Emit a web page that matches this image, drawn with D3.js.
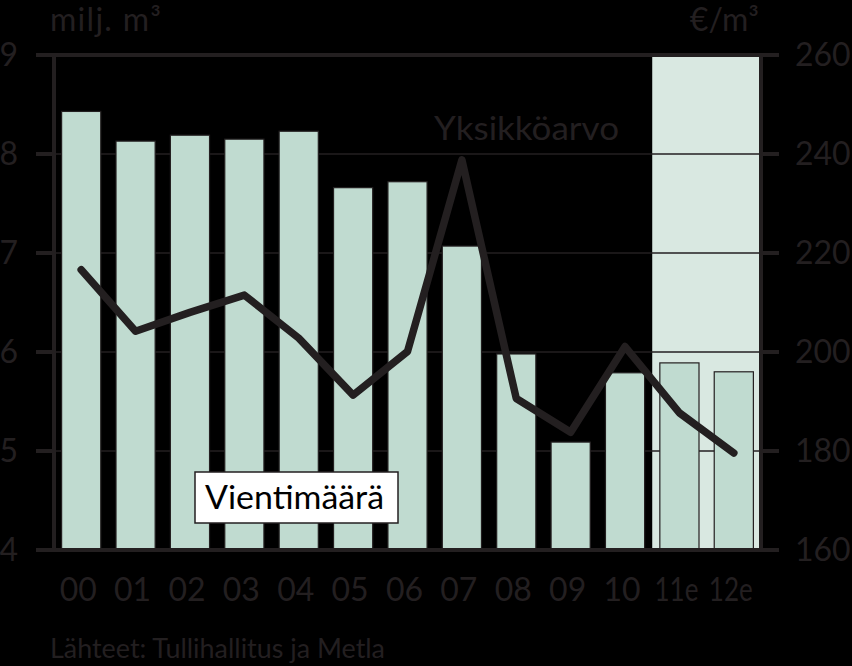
<!DOCTYPE html>
<html><head><meta charset="utf-8">
<script src="https://cdn.jsdelivr.net/npm/d3@7"></script>
<style>html,body{margin:0;padding:0;background:#000;}svg{display:block;}</style>
</head><body>
<script>
const categories = ["00","01","02","03","04","05","06","07","08","09","10","11e","12e"];
const volume = [8.43, 8.13, 8.19, 8.15, 8.23, 7.66, 7.72, 7.07, 5.98, 5.09, 5.79, 5.89, 5.80];
const unitValue = [216.6, 204.2, 208, 211.5, 202.8, 191.3, 200.1, 238.8, 190.6, 183.8, 201.1, 187.7, 179.6];
const leftTicks = [4,5,6,7,8,9];
const rightTicks = [160,180,200,220,240,260];
const forecast = ["11e","12e"];

const W = 852, H = 666;
const L = 54, R = 761, T = 55, B = 550;
const ink = "#231f20";
const font = "Lato, 'Open Sans', sans-serif";

const svg = d3.select("body").append("svg").attr("width", W).attr("height", H);
svg.append("rect").attr("width", W).attr("height", H).attr("fill", "#000");

const x = d3.scaleBand().domain(categories).range([L, R]).paddingInner(0.28).paddingOuter(0.14);
const yL = d3.scaleLinear().domain([4, 9]).range([B, T]);
const yR = d3.scaleLinear().domain([160, 260]).range([B, T]);

// forecast shading
const fx0 = x(forecast[0]) - x.step() * x.paddingInner() / 2;
svg.append("rect").attr("x", fx0).attr("y", T).attr("width", R - fx0).attr("height", B - T)
  .attr("fill", "#d9e8e1");

// gridlines
svg.append("g").selectAll("line").data(leftTicks.slice(1, -1)).join("line")
  .attr("x1", L).attr("x2", R).attr("y1", d => yL(d)).attr("y2", d => yL(d))
  .attr("stroke", ink).attr("stroke-width", 1.6);

// bars
svg.append("g").selectAll("rect").data(categories).join("rect")
  .attr("x", d => x(d)).attr("width", x.bandwidth())
  .attr("y", (d, i) => yL(volume[i])).attr("height", (d, i) => B - yL(volume[i]))
  .attr("fill", "#c0dbd0").attr("stroke", ink).attr("stroke-width", 1.2);

// axes frame
const axisG = svg.append("g").attr("stroke", ink).attr("stroke-width", 4);
axisG.append("line").attr("x1", L).attr("x2", L).attr("y1", T).attr("y2", B);
axisG.append("line").attr("x1", R).attr("x2", R).attr("y1", T).attr("y2", B);
axisG.append("line").attr("x1", 36).attr("x2", 779).attr("y1", T).attr("y2", T);
axisG.append("line").attr("x1", 36).attr("x2", 779).attr("y1", B).attr("y2", B);
axisG.selectAll(".tl").data(leftTicks).join("line").attr("class", "tl")
  .attr("x1", 36).attr("x2", L).attr("y1", d => yL(d)).attr("y2", d => yL(d));
axisG.selectAll(".tr").data(rightTicks).join("line").attr("class", "tr")
  .attr("x1", R).attr("x2", 779).attr("y1", d => yR(d)).attr("y2", d => yR(d));

// line
const line = d3.line().x((d, i) => x(categories[i]) + x.bandwidth() / 2).y(d => yR(d));
svg.append("path").datum(unitValue).attr("d", line).attr("fill", "none")
  .attr("stroke", ink).attr("stroke-width", 7.5).attr("stroke-linejoin", "round").attr("stroke-linecap", "round");

// tick labels
const txt = svg.append("g").attr("font-family", font).attr("fill", ink).attr("font-size", 32);
txt.selectAll(".lt").data(leftTicks).join("text").attr("class", "lt")
  .attr("x", 18).attr("y", d => yL(d) + 11).attr("text-anchor", "end").text(d => d);
txt.selectAll(".rt").data(rightTicks).join("text").attr("class", "rt")
  .attr("x", 795).attr("y", d => yR(d) + 11).attr("text-anchor", "start").text(d => d);
txt.selectAll(".xt").data(categories).join("text").attr("class", "xt")
  .attr("x", d => x(d) + x.bandwidth() / 2 - 3).attr("y", 601).attr("text-anchor", "middle").text(d => d)
  .each(function () {
    if (this.getComputedTextLength() > 44) {
      d3.select(this).attr("textLength", 44).attr("lengthAdjust", "spacingAndGlyphs");
    }
  });

// units
txt.append("text").attr("x", 50).attr("y", 31).attr("textLength", 111).text("milj. m³");
txt.append("text").attr("x", 759).attr("y", 31).attr("text-anchor", "end").text("€/m³");

// series labels
txt.append("text").attr("x", 434).attr("y", 140).attr("font-size", 32)
  .attr("textLength", 185).attr("lengthAdjust", "spacingAndGlyphs").text("Yksikköarvo");
svg.append("rect").attr("x", 195).attr("y", 472).attr("width", 203).attr("height", 51)
  .attr("fill", "#fff").attr("stroke", ink).attr("stroke-width", 1.5);
svg.append("text").attr("x", 205).attr("y", 509)
  .attr("font-family", font).attr("font-size", 33).attr("fill", "#000")
  .attr("textLength", 179).attr("lengthAdjust", "spacingAndGlyphs").text("Vientimäärä");

// source
txt.append("text").attr("x", 50).attr("y", 658).attr("font-size", 26)
  .attr("textLength", 335).attr("lengthAdjust", "spacingAndGlyphs").text("Lähteet: Tullihallitus ja Metla");
</script>
</body></html>
